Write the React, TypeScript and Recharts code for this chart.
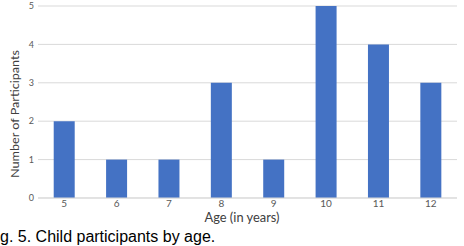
import React from 'react';
import { BarChart, Bar, XAxis, YAxis, CartesianGrid, Label } from 'recharts';

const ages = ['5', '6', '7', '8', '9', '10', '11', '12'];
const participants = [2, 1, 1, 3, 1, 5, 4, 3];
const yTicks = [0, 1, 2, 3, 4, 5];

const data = ages.map((age, i) => ({ age, count: participants[i] }));

const font = 'Lato, "Open Sans", sans-serif';

const App: React.FC = () => {
  return (
    <div style={{ position: 'absolute', left: 0, top: 0, width: 464, height: 246, background: '#fff', overflow: 'hidden' }}>
      <BarChart
        width={464}
        height={246}
        data={data}
        margin={{ top: 6, right: 7, left: 0, bottom: 18 }}
        barCategoryGap="30%"
      >
        <CartesianGrid vertical={false} stroke="#d9d9d9" />
        <XAxis
          dataKey="age"
          height={30}
          tickLine={false}
          tickSize={0}
          tickMargin={2}
          axisLine={{ stroke: '#d9d9d9' }}
          tick={{ fontSize: 10, fill: '#595959', fontFamily: font }}
        >
          <Label
            content={() => (
              <text x={242} y={217} textAnchor="middle" dominantBaseline="central" fontSize={12.5} fill="#404040" fontFamily={font} textLength={75} lengthAdjust="spacingAndGlyphs">
                Age (in years)
              </text>
            )}
          />
        </XAxis>
        <YAxis
          width={38}
          domain={[0, 5]}
          ticks={yTicks}
          tickLine={false}
          tickSize={2}
          axisLine={false}
          tick={{ fontSize: 9, fill: '#595959', fontFamily: font }}
        >
          <Label
            content={() => (
              <text x={14} y={114} transform="rotate(-90 14 114)" textAnchor="middle" dominantBaseline="central" fontSize={12} fill="#404040" fontFamily={font} textLength={128} lengthAdjust="spacingAndGlyphs">
                Number of Participants
              </text>
            )}
          />
        </YAxis>
        <Bar dataKey="count" fill="#4472c4" isAnimationActive={false} />
      </BarChart>
      <div
        style={{
          position: 'absolute',
          left: 0,
          top: 228,
          fontFamily: '"Liberation Sans", Arial, sans-serif',
          fontSize: 16,
          lineHeight: '18px',
          color: '#000',
          whiteSpace: 'nowrap',
        }}
      >
        g. 5. Child participants by age.
      </div>
    </div>
  );
};

export default App;
